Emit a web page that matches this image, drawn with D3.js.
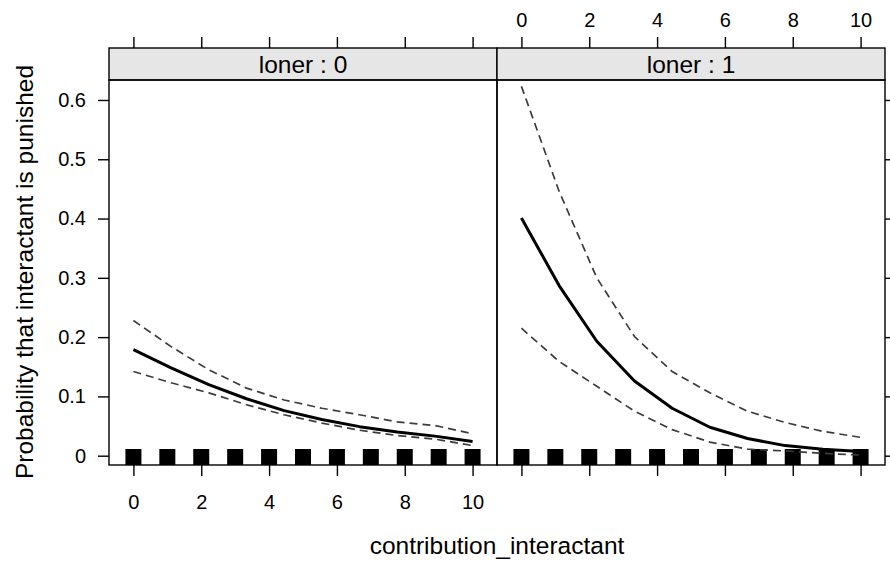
<!DOCTYPE html>
<html>
<head>
<meta charset="utf-8">
<script src="https://cdn.jsdelivr.net/npm/d3@7"></script>
<style>
  body { margin: 0; background: #fff; }
  svg { display: block; }
  text { font-family: "Liberation Sans", Arial, Helvetica, sans-serif; fill: #000; }
</style>
</head>
<body>
<svg id="chart" width="890" height="561"></svg>
<script>
// Predictor grid at which the effect was evaluated
const contribution = [0, 1.111, 2.222, 3.333, 4.444, 5.556, 6.667, 7.778, 8.889, 10];

// Panel (strip) labels
const panelLabels = ["loner : 0", "loner : 1"];

// Fitted probabilities and confidence bounds, loner = 0
const fitLoner0   = [0.179, 0.148, 0.120, 0.096, 0.076, 0.061, 0.049, 0.040, 0.033, 0.024];
const upperLoner0 = [0.228, 0.184, 0.145, 0.114, 0.094, 0.080, 0.069, 0.057, 0.051, 0.037];
const lowerLoner0 = [0.142, 0.123, 0.106, 0.086, 0.069, 0.055, 0.043, 0.034, 0.028, 0.017];

// Fitted probabilities and confidence bounds, loner = 1
const fitLoner1   = [0.401, 0.287, 0.193, 0.126, 0.080, 0.048, 0.029, 0.017, 0.011, 0.007];
const upperLoner1 = [0.623, 0.446, 0.300, 0.201, 0.142, 0.106, 0.075, 0.056, 0.041, 0.031];
const lowerLoner1 = [0.215, 0.159, 0.117, 0.075, 0.044, 0.023, 0.011, 0.008, 0.004, 0.001];

// Observed contribution values shown as a rug
const rugValues = [0, 1, 2, 3, 4, 5, 6, 7, 8, 9, 10];

// Axis ticks
const xTicks = [0, 2, 4, 6, 8, 10];
const yTicks = [0, 0.1, 0.2, 0.3, 0.4, 0.5, 0.6];

const xTitle = "contribution_interactant";
const yTitle = "Probability that interactant is punished";

// ---- layout ----
const svg = d3.select("#chart");
const stripTop = 48, panelTop = 80, panelBottom = 465;
const panelWidth = 388;
const panelLefts = [109, 497];
const tickLen = 11;

const panelsData = [
  { label: panelLabels[0], fit: fitLoner0, upper: upperLoner0, lower: lowerLoner0 },
  { label: panelLabels[1], fit: fitLoner1, upper: upperLoner1, lower: lowerLoner1 }
];

const y = d3.scaleLinear().domain([-0.0157, 0.6337]).range([panelBottom, panelTop]);
const yFmt = d3.format(".1~f");

svg.append("defs").selectAll("clipPath")
  .data(panelLefts).join("clipPath")
  .attr("id", (d, i) => "clip" + i)
  .append("rect")
  .attr("x", d => d).attr("y", panelTop)
  .attr("width", panelWidth).attr("height", panelBottom - panelTop);

panelsData.forEach((p, i) => {
  const left = panelLefts[i];
  const x = d3.scaleLinear().domain([-0.72, 10.72]).range([left, left + panelWidth]);
  const g = svg.append("g");

  // strip
  g.append("rect")
    .attr("x", left).attr("y", stripTop)
    .attr("width", panelWidth).attr("height", panelTop - stripTop)
    .attr("fill", "#e6e6e6").attr("stroke", "#000").attr("stroke-width", 1.4);
  g.append("text")
    .attr("x", left + panelWidth / 2).attr("y", (stripTop + panelTop) / 2)
    .attr("dy", "0.36em")
    .attr("text-anchor", "middle")
    .style("font-size", "24.5px")
    .text(p.label);

  const body = g.append("g").attr("clip-path", `url(#clip${i})`);

  // rug of observed values
  body.selectAll("rect.rug")
    .data(rugValues).join("rect")
    .attr("class", "rug")
    .attr("x", d => x(d) - 8).attr("width", 16)
    .attr("y", panelBottom - 16).attr("height", 16)
    .attr("fill", "#000");

  const line = d3.line()
    .x((d, j) => x(contribution[j]))
    .y(d => y(d));

  // confidence bounds
  [p.upper, p.lower].forEach(arr => {
    body.append("path")
      .attr("d", line(arr))
      .attr("fill", "none")
      .attr("stroke", "#3c3c3c")
      .attr("stroke-width", 1.7)
      .attr("stroke-dasharray", "8,5");
  });

  // fitted effect
  body.append("path")
    .attr("d", line(p.fit))
    .attr("fill", "none")
    .attr("stroke", "#000")
    .attr("stroke-width", 3)
    .attr("stroke-linejoin", "round");

  // panel border
  g.append("rect")
    .attr("x", left).attr("y", panelTop)
    .attr("width", panelWidth).attr("height", panelBottom - panelTop)
    .attr("fill", "none").attr("stroke", "#000").attr("stroke-width", 1.4);

  // bottom axis: labels on the first panel only
  const bottom = g.append("g")
    .attr("transform", `translate(0,${panelBottom})`)
    .call(d3.axisBottom(x).tickValues(xTicks).tickSize(tickLen).tickPadding(19)
      .tickFormat(i === 0 ? d3.format("d") : () => ""));
  // top axis: labels on the second panel only
  const top = g.append("g")
    .attr("transform", `translate(0,${stripTop})`)
    .call(d3.axisTop(x).tickValues(xTicks).tickSize(tickLen).tickPadding(10)
      .tickFormat(i === 1 ? d3.format("d") : () => ""));
  [bottom, top].forEach(a => {
    a.select(".domain").remove();
    a.selectAll("line").attr("stroke", "#000").attr("stroke-width", 1.4);
    a.selectAll("text").style("font-size", "20px").attr("fill", "#000");
  });
});

// left axis with labels, right axis ticks only
const leftAxis = svg.append("g")
  .attr("transform", `translate(${panelLefts[0]},0)`)
  .call(d3.axisLeft(y).tickValues(yTicks).tickSize(tickLen).tickPadding(12).tickFormat(yFmt));
const rightAxis = svg.append("g")
  .attr("transform", `translate(${panelLefts[1] + panelWidth},0)`)
  .call(d3.axisRight(y).tickValues(yTicks).tickSize(tickLen).tickFormat(() => ""));
[leftAxis, rightAxis].forEach(a => {
  a.select(".domain").remove();
  a.selectAll("line").attr("stroke", "#000").attr("stroke-width", 1.4);
  a.selectAll("text").style("font-size", "20px").attr("fill", "#000");
});

// axis titles
svg.append("text")
  .attr("x", (panelLefts[0] + panelLefts[1] + panelWidth) / 2)
  .attr("y", 554)
  .attr("text-anchor", "middle")
  .style("font-size", "24.5px")
  .text(xTitle);

svg.append("text")
  .attr("transform", "translate(33,272) rotate(-90)")
  .attr("text-anchor", "middle")
  .style("font-size", "24.5px")
  .text(yTitle);
</script>
</body>
</html>
